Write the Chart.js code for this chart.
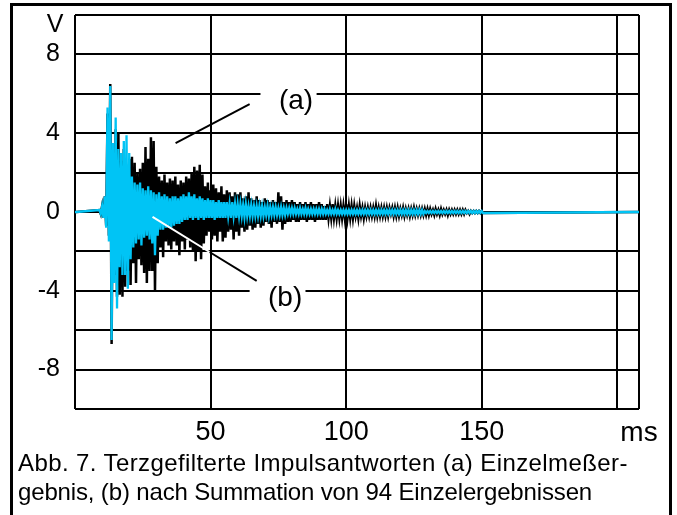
<!DOCTYPE html>
<html>
<head>
<meta charset="utf-8">
<script src="https://cdn.jsdelivr.net/npm/chart.js@4.4.1/dist/chart.umd.min.js"></script>
<style>
  html, body { margin: 0; padding: 0; background: #fff; overflow: hidden; }
  #rahmen { position: absolute; left: 10px; top: 3px; width: 662px; height: 540px; border: 3.5px solid #000; box-sizing: border-box; }
  #wrap { position: absolute; left: 0; top: 0; width: 677px; height: 515px; }
  #caption { position: absolute; left: 18px; top: 448px; font: 24px "Liberation Sans", Arial, sans-serif; line-height: 29px; color: #000; white-space: nowrap; }
  #caption .z1 { display: block; letter-spacing: 0.4px; }
  #caption .z2 { display: block; letter-spacing: -0.15px; }
</style>
</head>
<body>
<div id="rahmen"></div>
<div id="wrap"><canvas id="grafica" width="677" height="515"></canvas></div>
<div id="caption"><span class="z1">Abb. 7. Terzgefilterte Impulsantworten (a) Einzelmeßer-</span><span class="z2">gebnis, (b) nach Summation von 94 Einzelergebnissen</span></div>
<script>
const timeMs = [0,
  9, 10, 11, 12, 13, 14, 15, 16, 17, 18,
  19, 20, 21, 22, 23, 24, 25, 26, 27, 28,
  29, 30, 31, 32, 33, 34, 35, 36, 37, 38,
  39, 40, 41, 42, 43, 44, 45, 46, 47, 48,
  49, 50, 51, 52, 53, 54, 55, 56, 57, 58,
  59, 60, 61, 62, 63, 64, 65, 66, 67, 68,
  69, 70, 71, 72, 73, 74, 75, 76, 77, 78,
  79, 80, 81, 82, 83, 84, 85, 86, 87, 88,
  89, 90, 91, 92, 93, 94, 95, 96, 97, 98,
  99, 100, 101, 102, 103, 104, 105, 106, 107, 108,
  109, 110, 111, 112, 113, 114, 115, 116, 117, 118,
  119, 120, 121, 122, 123, 124, 125, 126, 127, 128,
  129, 130, 131, 132, 133, 134, 135, 136, 137, 138,
  139, 140, 141, 142, 143, 144, 145, 146, 147, 148,
  149, 150, 208];

// (a) Einzelmessung, obere / untere Spitzen in V
const aHi = [0,
  0.1, 0.3, 0.8, 5.0, 6.5, 3.0, 4.2, 4.0, 2.6, 3.2,
  2.4, 2.7, 2.8, 2.5, 2.0, 2.2, 2.5, 3.3, 2.7, 3.8,
  3.6, 2.3, 1.8, 1.6, 1.9, 1.5, 1.7, 1.6, 1.8, 1.4,
  1.6, 1.5, 1.8, 1.7, 2.0, 2.3, 2.1, 2.4, 1.9, 1.3,
  1.5, 1.1, 1.4, 1.2, 1.0, 1.3, 0.9, 1.1, 1.0, 0.8,
  1.0, 0.9, 1.0, 0.7, 0.8, 1.0, 0.7, 0.6, 0.8, 0.6,
  0.5, 0.7, 0.6, 0.5, 0.6, 0.5, 1.0, 0.8, 0.5, 0.6,
  0.5, 0.6, 0.5, 0.4, 0.5, 0.4, 0.5, 0.4, 0.5, 0.4,
  0.4, 0.5, 0.4, 0.3, 0.4, 0.3, 0.4, 0.3, 0.3, 0.3,
  0.3, 0.4, 0.3, 0.3, 0.3, 0.2, 0.3, 0.2, 0.2, 0.2,
  0.2, 0.2, 0.3, 0.2, 0.2, 0.2, 0.2, 0.2, 0.2, 0.2,
  0.2, 0.15, 0.2, 0.15, 0.15, 0.15, 0.2, 0.15, 0.15, 0.15,
  0.15, 0.15, 0.15, 0.1, 0.15, 0.1, 0.15, 0.1, 0.1, 0.1,
  0.1, 0.1, 0.1, 0.1, 0.1, 0.1, 0.05, 0.05, 0.05, 0.05,
  0.05, 0.05, 0];
const aLo = [0,
  -0.1, -0.3, -0.7, -1.2, -6.7, -3.2, -4.3, -4.2, -4.3, -3.8,
  -3.0, -3.7, -2.6, -3.6, -2.4, -2.7, -3.1, -3.6, -3.0, -3.0,
  -4.0, -2.6, -1.8, -2.3, -1.5, -1.7, -1.9, -1.5, -1.7, -2.2,
  -1.5, -1.9, -1.4, -1.8, -2.0, -2.5, -2.0, -2.4, -1.6, -1.2,
  -1.0, -1.4, -1.2, -1.5, -1.0, -1.5, -1.3, -1.0, -0.9, -1.4,
  -1.0, -1.2, -0.8, -1.0, -0.9, -0.7, -0.9, -0.8, -0.6, -0.8,
  -0.7, -0.5, -0.6, -0.8, -0.5, -0.6, -0.5, -0.9, -0.6, -0.5,
  -0.5, -0.4, -0.5, -0.5, -0.4, -0.4, -0.5, -0.4, -0.4, -0.5,
  -0.4, -0.4, -0.4, -0.4, -0.3, -0.3, -0.3, -0.3, -0.3, -0.3,
  -0.3, -0.3, -0.3, -0.3, -0.2, -0.3, -0.2, -0.3, -0.2, -0.2,
  -0.2, -0.2, -0.2, -0.2, -0.2, -0.2, -0.2, -0.1, -0.2, -0.2,
  -0.2, -0.15, -0.2, -0.15, -0.2, -0.15, -0.15, -0.15, -0.15, -0.15,
  -0.15, -0.15, -0.1, -0.15, -0.1, -0.15, -0.1, -0.1, -0.15, -0.1,
  -0.1, -0.1, -0.1, -0.1, -0.1, -0.05, -0.1, -0.05, -0.05, -0.05,
  -0.05, -0.05, 0];

// (b) nach Summation von 94 Messungen
const bHi = [0,
  0.1, 0.3, 0.8, 5.3, 6.4, 3.5, 4.8, 3.2, 3.0, 3.6,
  3.9, 3.0, 1.8, 1.5, 1.4, 1.5, 1.2, 1.1, 1.3, 1.1,
  1.0, 0.9, 1.0, 0.8, 0.9, 0.8, 0.7, 0.8, 0.8, 0.7,
  0.8, 0.9, 0.8, 1.0, 0.8, 0.9, 0.7, 0.8, 0.7, 0.6,
  0.7, 0.6, 0.6, 0.5, 0.6, 0.5, 0.5, 0.5, 0.4, 0.5,
  0.4, 0.4, 0.4, 0.35, 0.4, 0.3, 0.35, 0.3, 0.3, 0.3,
  0.3, 0.25, 0.3, 0.25, 0.25, 0.25, 0.2, 0.25, 0.2, 0.2,
  0.2, 0.2, 0.2, 0.15, 0.2, 0.15, 0.2, 0.15, 0.15, 0.15,
  0.15, 0.15, 0.15, 0.15, 0.1, 0.15, 0.1, 0.15, 0.1, 0.1,
  0.1, 0.1, 0.1, 0.1, 0.1, 0.1, 0.1, 0.1, 0.1, 0.1,
  0.1, 0.1, 0.1, 0.1, 0.1, 0.1, 0.1, 0.1, 0.1, 0.1,
  0.1, 0.1, 0.1, 0.1, 0.1, 0.1, 0.1, 0.1, 0.1, 0.1,
  0.05, 0.05, 0.05, 0.05, 0.05, 0.05, 0.05, 0.05, 0.05, 0.05,
  0.05, 0.05, 0.05, 0.05, 0.05, 0.05, 0.05, 0.05, 0.05, 0.05,
  0.05, 0.05, 0];
const bLo = [0,
  -0.1, -0.3, -0.8, -1.5, -6.5, -3.6, -4.9, -2.8, -3.2, -3.2,
  -3.9, -2.4, -1.8, -1.6, -1.4, -1.7, -1.3, -1.2, -1.4, -1.6,
  -2.2, -1.2, -0.9, -0.9, -0.8, -0.8, -0.8, -0.7, -0.6, -0.6,
  -0.5, -0.4, -0.4, -0.3, -0.4, -0.3, -0.4, -0.3, -0.4, -0.3,
  -0.3, -0.3, -0.4, -0.3, -0.3, -0.3, -0.3, -0.2, -0.3, -0.2,
  -0.3, -0.2, -0.2, -0.25, -0.2, -0.2, -0.2, -0.2, -0.2, -0.2,
  -0.2, -0.15, -0.2, -0.15, -0.15, -0.15, -0.15, -0.15, -0.15, -0.1,
  -0.1, -0.1, -0.1, -0.1, -0.1, -0.1, -0.1, -0.1, -0.1, -0.1,
  -0.1, -0.1, -0.1, -0.1, -0.1, -0.1, -0.1, -0.1, -0.1, -0.1,
  -0.1, -0.1, -0.1, -0.1, -0.1, -0.1, -0.1, -0.1, -0.1, -0.1,
  -0.1, -0.1, -0.1, -0.1, -0.1, -0.1, -0.1, -0.1, -0.1, -0.1,
  -0.1, -0.1, -0.1, -0.1, -0.1, -0.1, -0.1, -0.1, -0.1, -0.1,
  -0.05, -0.05, -0.05, -0.05, -0.05, -0.05, -0.05, -0.05, -0.05, -0.05,
  -0.05, -0.05, -0.05, -0.05, -0.05, -0.05, -0.05, -0.05, -0.05, -0.05,
  -0.05, -0.05, 0];

// Achsen
const xTickValues = [0, 50, 100, 150, 200, 208];
const xTickLabels = ['', '50', '100', '150', '', 'ms'];
const yTickValues = [-10, -8, -6, -4, -2, 0, 2, 4, 6, 8, 10];
const yTickLabels = ['', '-8', '', '-4', '', '0', '', '4', '', '8', ''];

// Beschriftungen (a), (b) mit Zeigerlinien, in ms / V
const zeigerA = [{ x: 64.4, y: 5.48 }, { x: 37.1, y: 3.5 }];
const zeigerBweiss = [{ x: 28.6, y: -0.25 }, { x: 49.6, y: -2.03 }];
const zeigerBschwarz = [{ x: 49.6, y: -2.03 }, { x: 67.0, y: -3.5 }];
const marken = [
  { text: '(a)', x: 81.5, y: 5.6, von: 68.4, bis: 89.1 },
  { text: '(b)', x: 77.5, y: -4.4, von: 64.4, bis: 85.0 }
];

function zickzack(t, hi, lo) {
  const pts = [];
  for (let i = 0; i < t.length; i++) {
    pts.push({ x: t[i], y: hi[i] });
    pts.push({ x: t[i] + 0.5, y: lo[i] });
  }
  return pts;
}

const schrift = '"Liberation Sans", Arial, sans-serif';

const beschriftung = {
  id: 'beschriftung',
  afterDatasetsDraw(chart) {
    const c = chart.ctx;
    const sx = chart.scales.x, sy = chart.scales.y;
    c.save();
    c.font = '28px ' + schrift;
    c.textAlign = 'center';
    c.textBaseline = 'middle';
    marken.forEach(m => {
      const px = sx.getPixelForValue(m.x), py = sy.getPixelForValue(m.y);
      const l = sx.getPixelForValue(m.von), r = sx.getPixelForValue(m.bis);
      c.fillStyle = '#fff';
      c.fillRect(l, py - 13, r - l, 26);
      c.fillStyle = '#000';
      c.fillText(m.text, px, py);
    });
    c.font = '25px ' + schrift;
    c.fillText('V', chart.chartArea.left - 20, sy.getPixelForValue(10) + 10);
    c.restore();
  }
};

document.addEventListener('DOMContentLoaded', function () {
  const ctx = document.getElementById('grafica').getContext('2d');
  new Chart(ctx, {
    type: 'line',
    data: {
      datasets: [
        { data: zeigerA, borderColor: '#000', borderWidth: 2, order: 0 },
        { data: zeigerBweiss, borderColor: '#fff', borderWidth: 2, order: 0 },
        { data: zeigerBschwarz, borderColor: '#000', borderWidth: 2, order: 0 },
        { label: '(b)', data: zickzack(timeMs, bHi, bLo), borderColor: '#00c4f5', borderWidth: 2.3, order: 1 },
        { label: '(a)', data: zickzack(timeMs, aHi, aLo), borderColor: '#000', borderWidth: 2.5, order: 2 }
      ]
    },
    options: {
      responsive: false,
      animation: false,
      devicePixelRatio: 1,
      elements: { point: { radius: 0 }, line: { tension: 0 } },
      layout: { padding: { left: 0, right: 38, top: 15, bottom: 0 } },
      plugins: { legend: { display: false }, tooltip: { enabled: false } },
      scales: {
        x: {
          type: 'linear',
          min: 0,
          max: 208,
          afterBuildTicks: s => { s.ticks = xTickValues.map(v => ({ value: v })); },
          afterFit: s => { s.height = 106; s.paddingLeft = 0; s.paddingRight = 0; },
          grid: { color: '#000', lineWidth: 2, drawTicks: false },
          border: { display: false },
          ticks: {
            autoSkip: false,
            maxRotation: 0,
            padding: 7,
            color: '#000',
            font: c => ({ family: schrift, size: c.tick && c.tick.value === 208 ? 28 : 27 }),
            callback: (v, i) => xTickLabels[i]
          }
        },
        y: {
          min: -10,
          max: 10,
          afterBuildTicks: s => { s.ticks = yTickValues.map(v => ({ value: v })); },
          afterFit: s => { s.width = 75; s.paddingTop = 0; s.paddingBottom = 0; },
          grid: { color: '#000', lineWidth: 2, drawTicks: false },
          border: { display: false },
          ticks: {
            autoSkip: false,
            padding: 15,
            color: '#000',
            font: { family: schrift, size: 25 },
            callback: (v, i) => yTickLabels[i]
          }
        }
      }
    },
    plugins: [beschriftung]
  });
});
</script>
</body>
</html>
